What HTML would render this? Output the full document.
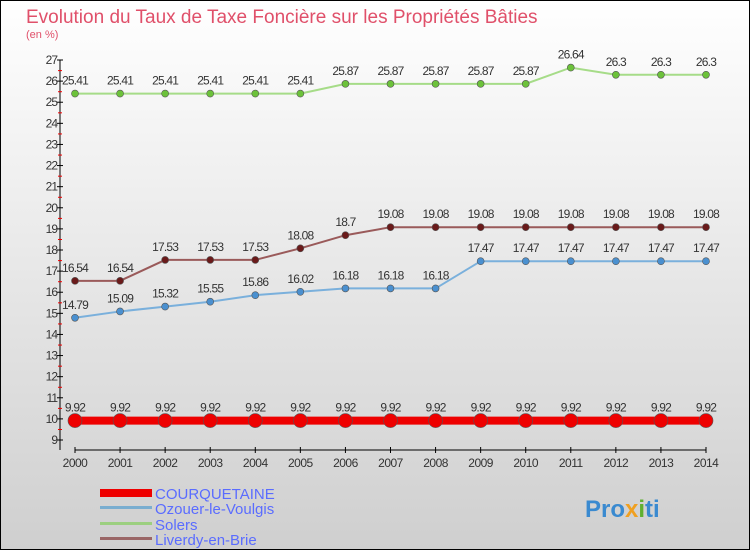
<!DOCTYPE html>
<html><head><meta charset="utf-8"><style>
body{margin:0}
svg{display:block;font-family:"Liberation Sans",sans-serif}
</style></head><body>
<svg width="750" height="550" viewBox="0 0 750 550">
<defs><linearGradient id="bg" x1="0" y1="0" x2="0" y2="1"><stop offset="0" stop-color="#ffffff"/><stop offset="1" stop-color="#cfcfcf"/></linearGradient></defs>
<rect x="0.5" y="0.5" width="749" height="549" fill="url(#bg)" stroke="#000"/>
<text x="26" y="23" font-size="19" fill="#e0506a">Evolution du Taux de Taxe Foncière sur les Propriétés Bâties</text>
<text x="26" y="38" font-size="11" fill="#e0506a">(en %)</text>
<g id="axes"></g>
<g id="series"></g>
<g id="legend">
<rect x="100" y="489" width="52" height="8" fill="#e00"/>
<text x="155" y="499" font-size="15" fill="#5a6cff">COURQUETAINE</text>
<rect x="100" y="506" width="52" height="3" fill="#7aaed0"/>
<text x="155" y="514" font-size="15" fill="#5a6cff">Ozouer-le-Voulgis</text>
<rect x="100" y="522" width="52" height="3" fill="#9ccf80"/>
<text x="155" y="530" font-size="15" fill="#5a6cff">Solers</text>
<rect x="100" y="537" width="52" height="3" fill="#9a6666"/>
<text x="155" y="545" font-size="15" fill="#5a6cff">Liverdy-en-Brie</text>
</g>
<text x="585" y="517" font-size="24" font-weight="bold" fill="#3a8ad0">Pro<tspan fill="#f0a020">x</tspan><tspan fill="#60b030">i</tspan>ti</text>
</svg>
<script>
const years=[2000,2001,2002,2003,2004,2005,2006,2007,2008,2009,2010,2011,2012,2013,2014];
const courquetaine=[9.92,9.92,9.92,9.92,9.92,9.92,9.92,9.92,9.92,9.92,9.92,9.92,9.92,9.92,9.92];
const ozouer=[14.79,15.09,15.32,15.55,15.86,16.02,16.18,16.18,16.18,17.47,17.47,17.47,17.47,17.47,17.47];
const solers=[25.41,25.41,25.41,25.41,25.41,25.41,25.87,25.87,25.87,25.87,25.87,26.64,26.3,26.3,26.3];
const liverdy=[16.54,16.54,17.53,17.53,17.53,18.08,18.7,19.08,19.08,19.08,19.08,19.08,19.08,19.08,19.08];
const yTicks=[9,10,11,12,13,14,15,16,17,18,19,20,21,22,23,24,25,26,27];
const NS="http://www.w3.org/2000/svg";
const xS=i=>75+i*(706-75)/(years.length-1);
const yS=v=>440-(v-9)*(380/18);
function mk(tag,attrs,parent){const e=document.createElementNS(NS,tag);for(const k in attrs)e.setAttribute(k,attrs[k]);parent.appendChild(e);return e;}
const ax=document.getElementById('axes');
let yl=mk('line',{x1:60,y1:60,x2:60,y2:450,stroke:'#000'},ax);


let xl=mk('line',{x1:75,y1:450,x2:706,y2:450,stroke:'#000'},ax);


yTicks.forEach(v=>{
 const y=yS(v);
 mk('line',{x1:57,y1:y,x2:63,y2:y,stroke:'#000'},ax);
 if(v<27)mk('line',{x1:58,y1:y-10.5,x2:62,y2:y-10.5,stroke:'#e00'},ax);
 const t=mk('text',{x:57,y:y+4,'font-size':12,'text-anchor':'end',fill:'#333','letter-spacing':'-1'},ax);
 t.textContent=v;
 
 
});
years.forEach((yr,i)=>{
 const x=xS(i);
 mk('line',{x1:x,y1:447,x2:x,y2:453,stroke:'#000'},ax);
 const t=mk('text',{x:x,y:467,'font-size':12,'text-anchor':'middle',fill:'#333','letter-spacing':'-0.5'},ax);
 t.textContent=yr;
 
 
});
const sg=document.getElementById('series');
function draw(vals,name,line,fill,w,r){
 const g=mk('g',{},sg);
 
 
 const p=mk('polyline',{points:vals.map((v,i)=>xS(i)+','+yS(v)).join(' '),fill:'none',stroke:line,'stroke-width':w},g);
 
 
 vals.forEach((v,i)=>{
  const c=mk('circle',{cx:xS(i),cy:yS(v),r:r,fill:fill,stroke:'#555','stroke-width':0.6},g);
  
  
  const t=mk('text',{x:xS(i),y:yS(v)-9,'font-size':12,'text-anchor':'middle',fill:'#333','letter-spacing':'-0.8'},g);
  t.textContent=v;
  
  
 });
}
draw(solers,'solers','#a6dc88','#6cc23a',2,3.5);
draw(liverdy,'liverdy','#9a5a5a','#6a1a1a',2,3.5);
draw(ozouer,'ozouer','#7ab0dc','#4a90d0',2,3.5);
draw(courquetaine,'courquetaine','#e00','#e00',8,7);
</script>
</body></html>
